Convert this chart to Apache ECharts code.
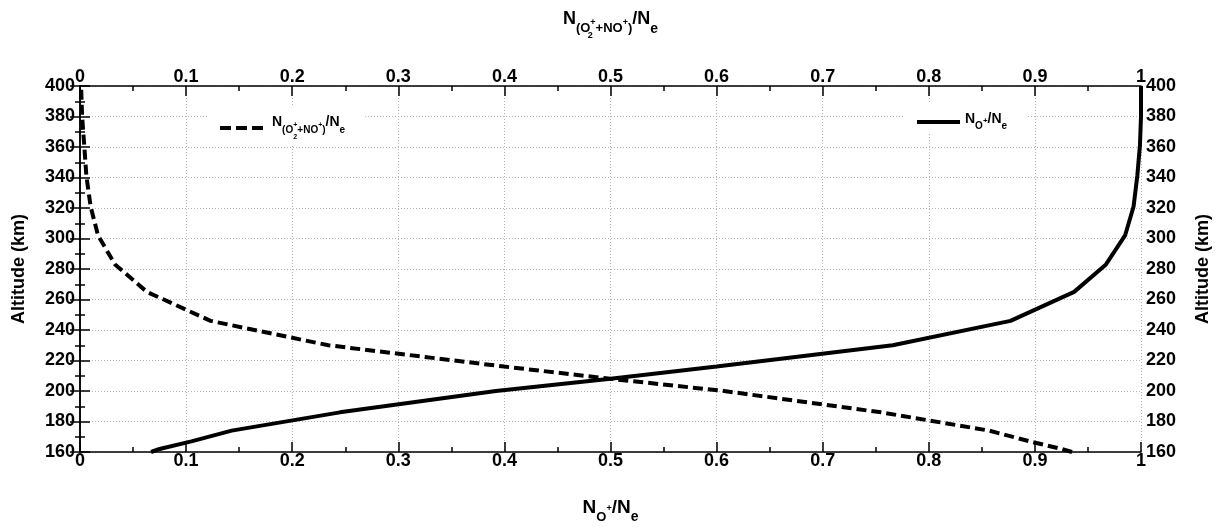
<!DOCTYPE html>
<html>
<head>
<meta charset="utf-8">
<script src="https://cdn.jsdelivr.net/npm/echarts@6/dist/echarts.min.js"></script>
<style>
html, body { margin: 0; padding: 0; background: #fff; }
#chart { width: 1215px; height: 527px; }
</style>
</head>
<body>
<div id="chart"></div>
<script>
// altitude levels (km) and ion fractions
var altitude = [160, 162, 167, 174, 186, 200, 208, 216, 230, 246, 265, 283, 302, 321, 341, 361, 380, 400];
var oPlusRatio = [0.067, 0.075, 0.105, 0.143, 0.245, 0.392, 0.500, 0.600, 0.766, 0.877, 0.937, 0.967, 0.985, 0.993, 0.9965, 0.999, 1.0, 1.0];
var molecularRatio = [0.935, 0.925, 0.895, 0.857, 0.755, 0.607, 0.500, 0.400, 0.234, 0.123, 0.063, 0.033, 0.017, 0.010, 0.006, 0.004, 0.002, 0.001];
var ratioRange = [0, 1];
var altitudeRange = [160, 400];

var FONT = 'Liberation Sans';

// rich text piece whose centre sits `shift` px below (+) or above (-) the middle of a `box` high line
function piece(size, shift, box) {
    return {
        fontSize: size, fontWeight: 'bold', fontFamily: FONT, color: '#000',
        verticalAlign: 'top', lineHeight: box,
        padding: [box / 2 + shift - size / 2, 0, 0, 0]
    };
}
function narrow(st) {
    st.width = 0.01;
    return st;
}

var chart = echarts.init(document.getElementById('chart'));

var tickLabel = { color: '#000', fontFamily: FONT, fontWeight: 'bold', fontSize: 18 };
var axisLine = { show: true, lineStyle: { color: '#000', width: 1.5 } };
var axisTick = { show: true, inside: true, length: 10, lineStyle: { color: '#000', width: 1.5 } };
var minorTick = { show: true, splitNumber: 2, length: 5, lineStyle: { color: '#000', width: 1.5 } };
var gridLine = { show: true, lineStyle: { color: '#b4b4b4', width: 1, type: [1, 2] } };
var yName = { color: '#000', fontFamily: FONT, fontWeight: 'bold', fontSize: 18 };
var hiddenSymbol = { color: 'rgba(0,0,0,0)', borderWidth: 0, opacity: 0 };

var option = {
    backgroundColor: '#fff',
    animation: false,
    grid: { left: 80, right: 74, top: 86, bottom: 75, outerBoundsMode: 'none', containLabel: false },
    xAxis: [{
        type: 'value', position: 'bottom',
        min: ratioRange[0], max: ratioRange[1], interval: 0.1,
        name: '{n|N}{s|O}{p|+}{n|/N}{e|e}',
        nameLocation: 'middle', nameGap: 45,
        nameTextStyle: {
            rich: {
                n: piece(19, -4, 30),
                s: piece(13, 5, 30),
                p: piece(9, -3, 30),
                e: piece(14, 5, 30)
            }
        },
        axisLine: axisLine, axisTick: axisTick, minorTick: minorTick,
        axisLabel: Object.assign({ margin: 0 }, tickLabel),
        splitLine: gridLine
    }, {
        type: 'value', position: 'top',
        min: ratioRange[0], max: ratioRange[1], interval: 0.1,
        name: '{n|N}{s|(O}{t|2}{p|+}{s|+NO}{p|+}{s|)}{n|/N}{e|e}',
        nameLocation: 'middle', nameGap: 46,
        nameTextStyle: {
            rich: {
                n: piece(18, -6, 30),
                s: piece(13, 3, 30),
                t: narrow(piece(9, 11, 30)),
                p: piece(9, -2, 30),
                e: piece(14, 4, 30)
            }
        },
        axisLine: axisLine, axisTick: axisTick, minorTick: minorTick,
        axisLabel: Object.assign({ margin: 0 }, tickLabel),
        splitLine: { show: false }
    }],
    yAxis: [{
        type: 'value', position: 'left',
        min: altitudeRange[0], max: altitudeRange[1], interval: 20,
        name: 'Altitude (km)', nameLocation: 'middle', nameGap: 52,
        nameTextStyle: yName,
        axisLine: axisLine, axisTick: axisTick, minorTick: minorTick,
        axisLabel: Object.assign({ margin: 5 }, tickLabel),
        splitLine: gridLine
    }, {
        type: 'value', position: 'right',
        min: altitudeRange[0], max: altitudeRange[1], interval: 20,
        name: 'Altitude (km)', nameLocation: 'middle', nameGap: 53,
        nameTextStyle: yName,
        axisLine: axisLine, axisTick: axisTick, minorTick: minorTick,
        axisLabel: Object.assign({ margin: 5 }, tickLabel),
        splitLine: { show: false }
    }],
    legend: [{
        data: ['molecular'],
        left: 207, top: 107,
        padding: [3, 20, 3, 11],
        backgroundColor: '#fff',
        selectedMode: false,
        itemWidth: 47, itemHeight: 14,
        itemStyle: hiddenSymbol,
        lineStyle: { width: 4, color: '#000', type: [11, 5] },
        formatter: function () {
            return '{n|N}{s|(O}{t|2}{p|+}{s|+NO}{p|+}{s|)}{n|/N}{e|e}';
        },
        textStyle: {
            fontFamily: FONT,
            rich: {
                n: piece(14, -6, 36),
                s: piece(10, 2, 36),
                t: narrow(piece(7, 9.5, 36)),
                p: piece(7, -3, 36),
                e: piece(10, 2, 36)
            }
        }
    }, {
        data: ['oplus'],
        left: 903, top: 104,
        padding: [3, 19, 3, 12],
        backgroundColor: '#fff',
        selectedMode: false,
        itemWidth: 43, itemHeight: 14,
        itemStyle: hiddenSymbol,
        lineStyle: { width: 4, color: '#000', type: 'solid' },
        formatter: function () {
            return '{n|N}{s|O}{p|+}{n|/N}{e|e}';
        },
        textStyle: {
            fontFamily: FONT,
            rich: {
                n: piece(14, -3, 30),
                s: piece(10, 4, 30),
                p: piece(8, -1, 30),
                e: piece(10, 4, 30)
            }
        }
    }],
    series: [{
        name: 'oplus',
        type: 'line',
        xAxisIndex: 0, yAxisIndex: 0,
        symbol: 'none',
        lineStyle: { color: '#000', width: 4, type: 'solid' },
        itemStyle: { color: '#000' },
        data: altitude.map(function (a, i) { return [oPlusRatio[i], a]; })
    }, {
        name: 'molecular',
        type: 'line',
        xAxisIndex: 1, yAxisIndex: 0,
        symbol: 'none',
        lineStyle: { color: '#000', width: 4, type: [10, 5] },
        itemStyle: { color: '#000' },
        data: altitude.map(function (a, i) { return [molecularRatio[i], a]; })
    }]
};

chart.setOption(option);
</script>
</body>
</html>
